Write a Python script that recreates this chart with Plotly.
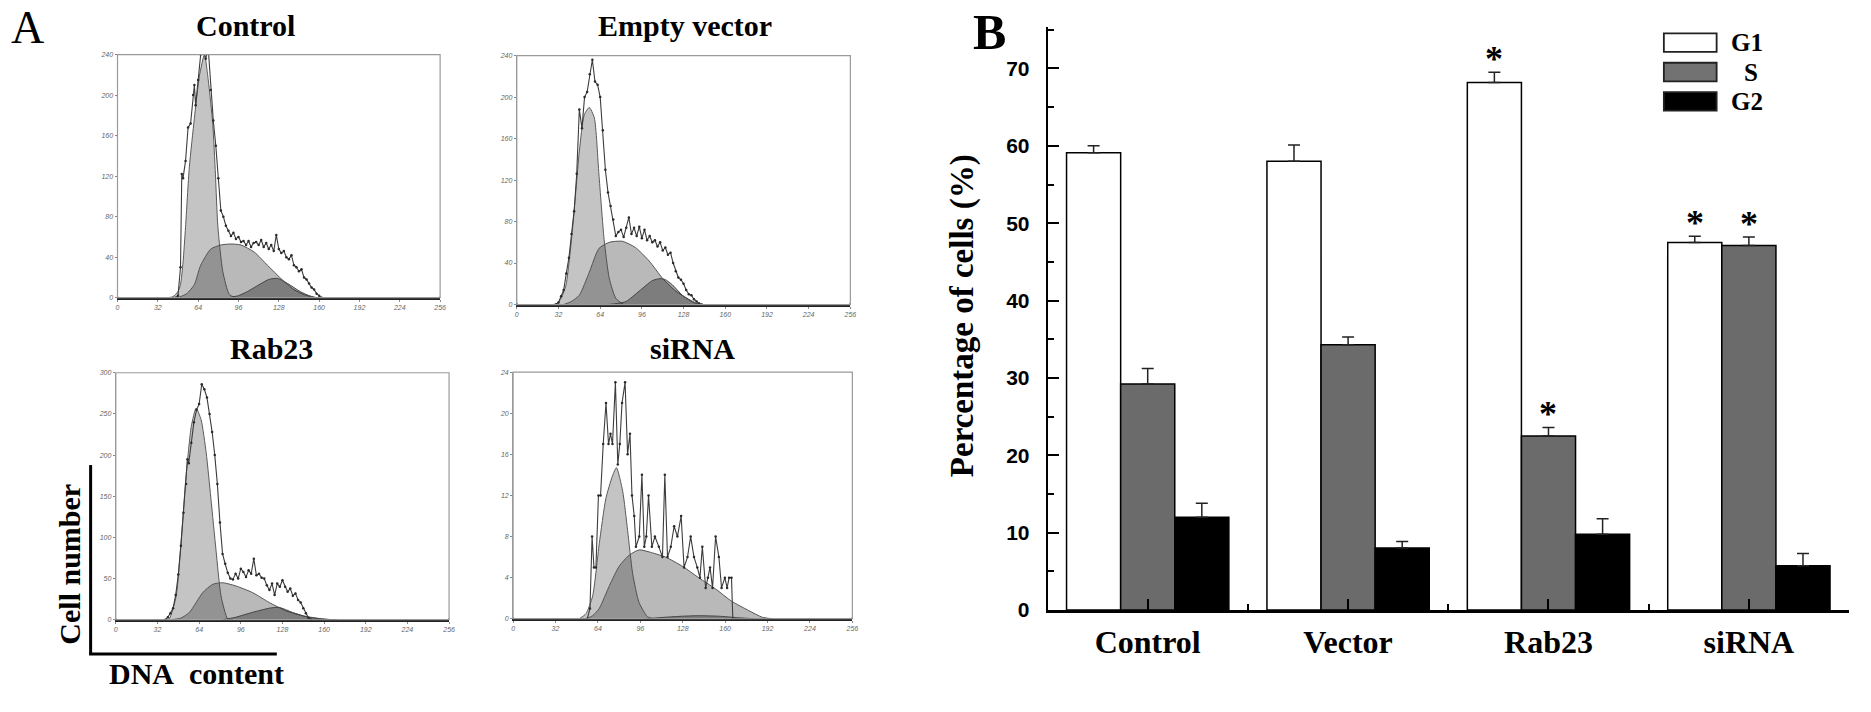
import plotly.graph_objects as go

W, H = 1871, 712

# ---------------- Panel B data ----------------
groups = ["Control", "Vector", "Rab23", "siRNA"]
g1_vals = [59.1, 58.0, 68.2, 47.5]
g1_err = [0.9, 2.1, 1.3, 0.8]
s_vals = [29.2, 34.3, 22.5, 47.1]
s_err = [2.0, 1.0, 1.1, 1.1]
g2_vals = [12.0, 8.0, 9.8, 5.7]
g2_err = [1.8, 0.85, 2.0, 1.6]
star_g1 = [False, False, True, True]
star_s = [False, False, True, True]
star_g2 = [False, False, False, False]
b_yticks = [0, 10, 20, 30, 40, 50, 60, 70]

# ---------------- Panel A data (DNA content histograms) ----------------
hist_xticks = [0, 32, 64, 96, 128, 160, 192, 224, 256]

# Control
ctrl_raw_x = [0, 46, 48, 50, 51, 52, 54, 56, 58, 60, 61, 62, 64, 66, 68, 70, 72, 74, 76, 78, 80, 82, 84, 86, 88,
              90, 92, 94, 96, 98, 100, 102, 104, 106, 108, 110, 112, 114, 116, 118, 120, 122, 124, 126, 128,
              130, 132, 134, 136, 138, 140, 142, 144, 146, 148, 150, 152, 154, 156, 158, 160, 162, 256]
ctrl_raw_y = [0, 0, 2, 30, 122, 118, 135, 168, 172, 200, 210, 190, 215, 240, 244, 236, 246, 205, 175, 150, 118, 86, 80, 71, 66,
              61, 64, 58, 60, 55, 56, 52, 56, 50, 54, 55, 52, 57, 50, 54, 48, 52, 46, 62, 48,
              44, 46, 40, 38, 42, 32, 30, 26, 28, 20, 18, 14, 10, 8, 4, 2, 0, 0]
ctrl_g1_x = [40, 44, 48, 50, 52, 54, 57, 61, 65, 69, 72, 75.6, 77.7, 79.6, 83.5, 88.8, 94]
ctrl_g1_y = [0, 1, 6, 13, 35, 70, 129, 177, 219, 240, 215, 171, 122, 71, 26, 3, 0]
ctrl_s_x = [48, 55, 61, 66, 74, 82, 90, 98, 108.5, 119, 129.6, 140, 148, 156]
ctrl_s_y = [0, 4, 13, 32, 48, 52, 53, 52, 45, 32, 19, 8, 3, 0]
ctrl_g2_x = [88, 96, 103, 114, 120, 127, 135, 145, 152, 158]
ctrl_g2_y = [0, 2, 6, 14, 18, 19, 14, 6, 2, 0]

# Empty vector
vec_raw_x = [0, 30, 32, 34, 36, 38, 40, 42, 44, 46, 48, 50, 52, 54, 56, 58, 60, 62, 64, 66, 68, 70, 72, 74, 76,
             78, 80, 82, 84, 86, 88, 90, 92, 94, 96, 98, 100, 102, 104, 106, 108, 110, 112, 114, 116, 118,
             120, 122, 124, 126, 128, 130, 132, 134, 136, 138, 140, 142, 256]
vec_raw_y = [0, 0, 2, 8, 14, 30, 45, 68, 90, 126, 188, 170, 200, 205, 222, 236, 215, 212, 200, 168, 130, 108, 95, 82, 66,
             70, 72, 65, 74, 84, 68, 74, 66, 75, 64, 72, 62, 66, 60, 62, 56, 60, 52, 55, 48, 50,
             40, 32, 26, 24, 20, 14, 10, 9, 5, 3, 1, 0, 0]
vec_g1_x = [28, 31, 34, 37.8, 40.5, 43, 45.5, 48, 51.8, 55.6, 59.5, 63, 67, 71, 76, 82]
vec_g1_y = [0, 1, 6, 19, 45, 76, 112, 148, 183, 190, 180, 126, 63, 25, 6, 0]
vec_s_x = [36, 42, 48, 55.6, 63, 71, 81, 91, 101.6, 112, 122, 132, 140]
vec_s_y = [0, 3, 9, 31, 54, 60, 61, 55, 42, 25, 13, 5, 0]
vec_g2_x = [70, 77, 84, 94, 104, 110, 114, 119.4, 127, 137, 142]
vec_g2_y = [0, 1, 3, 13, 23, 25, 24, 19, 9, 1, 0]

# Rab23
rab_raw_x = [0, 38, 40, 42, 44, 46, 48, 50, 52, 54, 55, 56, 58, 60, 62, 64, 66, 68, 70, 72, 74, 76, 78, 80, 82,
             84, 86, 88, 90, 92, 94, 96, 98, 100, 102, 104, 106, 108, 110, 112, 114, 116, 118, 120, 122,
             124, 126, 128, 130, 132, 134, 136, 138, 140, 142, 144, 146, 148, 150, 256]
rab_raw_y = [0, 0, 3, 8, 14, 30, 55, 90, 130, 165, 195, 190, 215, 240, 255, 262, 286, 280, 270, 250, 228, 200, 165, 118, 80,
             68, 57, 50, 49, 56, 50, 62, 58, 52, 60, 56, 74, 54, 56, 51, 50, 42, 36, 44, 30,
             44, 40, 48, 40, 34, 38, 29, 32, 24, 21, 14, 8, 2, 0, 0]
rab_g1_x = [38, 41, 46.4, 50, 54, 58, 61.7, 65.5, 69.4, 73, 77, 80.8, 86, 90]
rab_g1_y = [0, 1, 29, 92, 175, 235, 257, 243, 203, 148, 84, 29, 1, 0]
rab_s_x = [42, 50, 56.6, 66.8, 74.4, 82, 92.3, 105, 117.8, 130.5, 143, 158.6, 168]
rab_s_y = [0, 2, 9, 33, 43, 45, 41, 33, 21, 11, 5, 1, 0]
rab_g2_x = [82, 92, 105, 117.8, 125.5, 135.6, 148, 163.7, 170]
rab_g2_y = [0, 3, 9, 14, 15, 9, 3, 0.3, 0]

# siRNA
sir_raw_x = [0, 56, 58, 59.6, 61, 62.5, 64.4, 66, 68, 70.1, 72, 73.5, 75, 77.2, 79, 80.5, 82.2, 84.5, 86.4, 88.2,
             89.7, 91.4, 92.7, 95.2, 97.2, 99, 100.5, 102.2, 104.7, 107, 110, 112.7, 114.5, 116.5, 119,
             121.5, 124, 126.8, 129, 131.6, 134, 136.5, 139, 141, 142.8, 145.3, 147, 148.6, 150.5, 152.8,
             155.3, 157.3, 159.8, 161.5, 163, 164.8, 165.8, 256]
sir_raw_y = [0, 0, 1, 8, 5, 5, 12, 12, 17, 21, 17, 18, 17, 23, 15, 17, 21, 23, 16, 18,
             12, 10, 7, 8, 14, 7, 8, 12, 7, 8, 7, 6, 14, 6, 7,
             9, 8, 10, 5, 6, 8, 6, 5, 4, 7, 3, 4, 5, 3, 8,
             6, 3, 4, 3, 4, 4, 0, 0]
sir_g1_x = [50, 55, 60, 65, 70, 75, 78, 82.7, 86.4, 90.2, 95, 101.4, 106]
sir_g1_y = [0, 0.5, 2.2, 7.3, 11.7, 13.9, 14.7, 12.4, 8.6, 4.4, 1.6, 0.2, 0]
sir_s_x = [55, 60, 65, 72.6, 80, 87.7, 95.2, 102.7, 115, 127.8, 140, 152.8, 165, 177.8, 188, 196]
sir_s_y = [0, 0.3, 1, 3.2, 5.1, 6.2, 6.7, 6.5, 6.0, 5.1, 4.0, 2.9, 1.7, 0.8, 0.15, 0]
sir_g2_x = [100, 115, 128, 140, 155, 170, 182]
sir_g2_y = [0, 0.15, 0.25, 0.3, 0.25, 0.1, 0]

# ---------------- helpers ----------------
def px(x):
    return x / W


def py(y):
    return 1 - y / H


SERIF = "Liberation Serif"
SANS = "Liberation Sans"

fig = go.Figure()

panels = [
    ("Control", 1, (ctrl_raw_x, ctrl_raw_y), (ctrl_g1_x, ctrl_g1_y), (ctrl_s_x, ctrl_s_y), (ctrl_g2_x, ctrl_g2_y),
     240, 40, (116, 440), (51.7, 300), (244.5, 22)),
    ("Empty vector", 2, (vec_raw_x, vec_raw_y), (vec_g1_x, vec_g1_y), (vec_s_x, vec_s_y), (vec_g2_x, vec_g2_y),
     240, 40, (517, 852), (52.7, 307), (686, 22)),
    ("Rab23", 3, (rab_raw_x, rab_raw_y), (rab_g1_x, rab_g1_y), (rab_s_x, rab_s_y), (rab_g2_x, rab_g2_y),
     300, 50, (114.3, 449), (376.7, 629), (271, 352)),
    ("siRNA", 4, (sir_raw_x, sir_raw_y), (sir_g1_x, sir_g1_y), (sir_s_x, sir_s_y), (sir_g2_x, sir_g2_y),
     24, 4, (513.3, 854), (376, 628), (693, 352)),
]

fills = [
    ("rgba(60,60,60,0.30)", "#5a5a5a"),
    ("rgba(60,60,60,0.36)", "#555555"),
    ("rgba(30,30,30,0.38)", "#444444"),
]

shapes = []
annotations = []
layout_axes = {}


def ann(text, x, y, size, ref=("paper", "paper"), angle=0, **kw):
    d = dict(text=text, x=x, y=y, xref=ref[0], yref=ref[1], showarrow=False,
             xanchor="center", yanchor="middle", textangle=angle,
             font=dict(family=SERIF, size=size, color="black"))
    d.update(kw)
    return d


for title, n, raw, g1, s, g2, ymax, ydt, xd, yd, tpos in panels:
    xa = "x" if n == 1 else f"x{n}"
    ya = "y" if n == 1 else f"y{n}"
    for (cx, cy), (fc, lc) in zip([g1, s, g2], fills):
        fig.add_trace(go.Scatter(
            x=cx, y=cy, mode="lines", fill="tozeroy", fillcolor=fc,
            line=dict(color=lc, width=1, shape="spline", smoothing=0.6),
            xaxis=xa, yaxis=ya, showlegend=False, hoverinfo="skip"))
    fig.add_trace(go.Scatter(
        x=raw[0], y=raw[1], mode="lines+markers",
        line=dict(color="#3c3c3c", width=1.1),
        marker=dict(size=2.5, color="#2a2a2a"),
        xaxis=xa, yaxis=ya, showlegend=False, hoverinfo="skip"))

    key = "" if n == 1 else str(n)
    layout_axes["xaxis" + key] = dict(
        domain=[px(xd[0]), px(xd[1])], range=[0, 256], tickmode="array", tickvals=hist_xticks,
        ticks="outside", ticklen=2, tickcolor="#888", tickwidth=0.8,
        tickfont=dict(family=SANS, size=7, color="#666", style="italic"),
        showline=True, linecolor="#222", linewidth=2, showgrid=False, zeroline=False,
        anchor=ya, fixedrange=True)
    layout_axes["yaxis" + key] = dict(
        domain=[py(yd[1]), py(yd[0])], range=[0, ymax], tick0=0, dtick=ydt,
        ticks="outside", ticklen=2, tickcolor="#888", tickwidth=0.8,
        tickfont=dict(family=SANS, size=7, color="#666", style="italic"),
        showline=True, linecolor="#999", linewidth=1, showgrid=False, zeroline=False,
        anchor=xa, fixedrange=True)
    shapes.append(dict(type="rect", xref=f"{xa} domain", yref=f"{ya} domain",
                       x0=0, x1=1, y0=0, y1=1, line=dict(color="#9a9a9a", width=1.2), layer="above"))
    annotations.append(ann(f"<b>{title}</b>", px(tpos[0]), py(tpos[1]), 30))

# ---------------- Panel B bars ----------------
bargap = 0.19
bw = (1 - bargap) / 3
xpos = list(range(len(groups)))
series = [
    ("G1", g1_vals, g1_err, "white", star_g1, -bw),
    ("S", s_vals, s_err, "#6b6b6b", star_s, 0.0),
    ("G2", g2_vals, g2_err, "black", star_g2, bw),
]
for name, vals, errs, col, stars, off in series:
    fig.add_trace(go.Bar(
        x=xpos, y=vals, name=name, marker=dict(color=col, line=dict(color="black", width=1.5)),
        error_y=dict(type="data", array=errs, arrayminus=[0] * len(errs), symmetric=False,
                     color="#222", thickness=1.5, width=6),
        xaxis="x5", yaxis="y5", showlegend=False))
    for i, (v, e, st) in enumerate(zip(vals, errs, stars)):
        if st:
            annotations.append(ann("<b>*</b>", i + off, v + e, 36, ref=("x5", "y5"),
                                   yanchor="bottom", yshift=-9))

layout_axes["xaxis5"] = dict(
    domain=[px(1050), px(1855)], range=[-0.5, 3.5], tickmode="array", tickvals=xpos, ticktext=groups,
    ticks="inside", ticklen=11, tickwidth=2, tickcolor="black",
    minor=dict(tickmode="linear", tick0=0.5, dtick=1, ticks="inside", ticklen=6, tickwidth=2, tickcolor="black"),
    showline=True, linecolor="black", linewidth=2.5, showgrid=False, zeroline=False,
    tickfont=dict(family=SERIF, size=32, color="black", weight="bold"), ticklabelstandoff=2,
    anchor="y5", fixedrange=True)
layout_axes["yaxis5"] = dict(
    domain=[py(619), py(24)], range=[0, 75.3], tickmode="array", tickvals=b_yticks,
    ticks="inside", ticklen=12, tickwidth=1.5, tickcolor="black",
    minor=dict(tickmode="linear", tick0=5, dtick=10, ticks="inside", ticklen=7, tickwidth=1.5, tickcolor="black"),
    showline=True, linecolor="black", linewidth=1.5, showgrid=False, zeroline=False,
    tickfont=dict(family=SANS, size=21, color="black", weight="bold"), ticklabelstandoff=12,
    anchor="x5", fixedrange=True)

# legend (drawn manually to match large rectangular keys)
legend_items = [("G1", "white", 30, 49, 1752), ("S", "#727272", 60, 79, 1757), ("G2", "black", 90, 109, 1752)]
for lab, col, y0, y1, lx in legend_items:
    shapes.append(dict(type="rect", xref="paper", yref="paper", x0=px(1669), x1=px(1722),
                       y0=py(y1), y1=py(y0), fillcolor=col, line=dict(color="#222", width=1.8)))
    annotations.append(ann(f"<b>{lab}</b>", px(lx), py((y0 + y1) / 2), 25))

# panel letters and axis captions
annotations += [
    ann("A", px(26), py(24), 46),
    ann("<b>B</b>", px(992), py(29), 50),
    ann("<b>Percentage of cells (%)</b>", px(964), py(318), 33, angle=-90),
    ann("<b>Cell number</b>", px(68), py(572), 30, angle=-90),
    ann("<b>DNA\u00a0 content</b>", px(195), py(684), 30),
]
shapes += [
    dict(type="line", xref="paper", yref="paper", x0=px(89), x1=px(89), y0=py(471), y1=py(664),
         line=dict(color="black", width=3)),
    dict(type="line", xref="paper", yref="paper", x0=px(87.5), x1=px(276), y0=py(664), y1=py(664),
         line=dict(color="black", width=3)),
]

fig.update_layout(
    width=W, height=H, margin=dict(l=0, r=0, t=0, b=0),
    paper_bgcolor="white", plot_bgcolor="rgba(0,0,0,0)",
    barmode="group", bargap=bargap, bargroupgap=0,
    shapes=shapes, annotations=annotations, showlegend=False,
    **layout_axes)

fig.write_html("out.html", config={"displayModeBar": False},
               post_script="document.body.style.margin='0';document.body.style.overflow='hidden';")
